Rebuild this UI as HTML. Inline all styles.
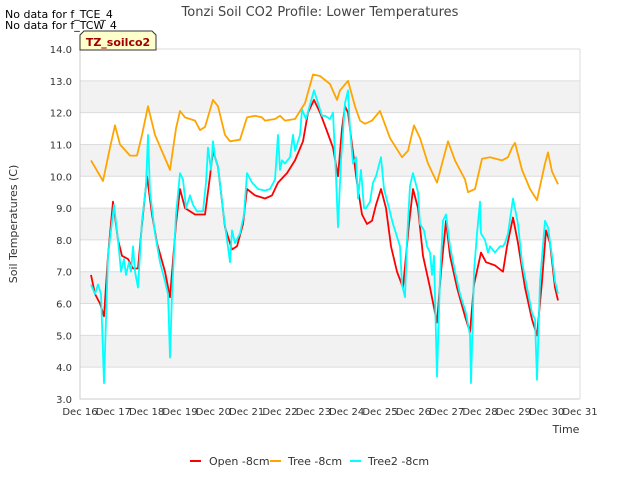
<!DOCTYPE html>
<html><head><meta charset="utf-8"><style>
body{margin:0;background:#fff;font-family:"Liberation Sans","DejaVu Sans",sans-serif}
svg text{font-family:"DejaVu Sans","Liberation Sans",sans-serif}
</style></head><body>
<svg id="chart" width="640" height="480" xmlns="http://www.w3.org/2000/svg">
<rect width="640" height="480" fill="#fff"/>
<g id="bands"></g><g id="grid"></g><g id="axes"></g><g id="series"></g>
<text x="320" y="16" text-anchor="middle" font-size="13" fill="#444">Tonzi Soil CO2 Profile: Lower Temperatures</text>
<text x="5" y="18" font-size="11" fill="#000">No data for f_TCE_4</text>
<text x="5" y="29" font-size="11" fill="#000">No data for f_TCW_4</text>
<g><path d="M80,50 L80,35 L84,31 L152,31 L156,35 L156,50 Z" fill="#ffffcc" stroke="#333"/>
<text x="118" y="46" text-anchor="middle" font-size="11" font-weight="bold" fill="#a00000">TZ_soilco2</text></g>
<text x="566" y="433" text-anchor="middle" font-size="11" fill="#333">Time</text>
<text transform="translate(17,224) rotate(-90)" text-anchor="middle" font-size="11" fill="#333">Soil Temperatures (C)</text>
<g>
<g><line x1="190" y1="461" x2="201" y2="461" stroke="#ff0000" stroke-width="2"/><text x="209" y="465" font-size="11" fill="#333">Open -8cm</text></g>
<g><line x1="270" y1="461" x2="281" y2="461" stroke="#ffa500" stroke-width="2"/><text x="288" y="465" font-size="11" fill="#333">Tree -8cm</text></g>
<g><line x1="350" y1="461" x2="361" y2="461" stroke="#00ffff" stroke-width="2"/><text x="368" y="465" font-size="11" fill="#333">Tree2 -8cm</text></g>
</g>
</svg>
<script>
const xTickLabels=["Dec 16","Dec 17","Dec 18","Dec 19","Dec 20","Dec 21","Dec 22","Dec 23","Dec 24","Dec 25","Dec 26","Dec 27","Dec 28","Dec 29","Dec 30","Dec 31"];
const yTicks=[3,4,5,6,7,8,9,10,11,12,13,14];
const openDays=[.33,.45,.6,.72,.84,.99,1.14,1.26,1.44,1.59,1.74,1.86,2.01,2.16,2.31,2.55,2.7,2.88,3.0,3.15,3.3,3.45,3.75,3.9,3.99,4.14,4.35,4.56,4.71,4.89,5.01,5.25,5.55,5.76,5.94,6.21,6.45,6.69,6.84,7.02,7.2,7.38,7.59,7.74,7.86,7.95,8.04,8.16,8.31,8.46,8.61,8.76,8.88,9.03,9.18,9.33,9.51,9.69,9.87,9.99,10.14,10.29,10.5,10.71,10.83,10.98,11.1,11.31,11.55,11.7,11.82,12.03,12.18,12.45,12.69,12.81,12.99,13.14,13.35,13.56,13.71,13.86,13.98,14.1,14.25,14.34];
const openVals=[6.9,6.3,6.0,5.6,7.5,9.2,8.0,7.5,7.4,7.1,7.1,8.5,10.0,8.8,7.9,7.0,6.2,8.5,9.6,9.0,8.9,8.8,8.8,10.0,10.8,10.3,8.4,7.7,7.8,8.5,9.6,9.4,9.3,9.4,9.8,10.1,10.5,11.1,12.0,12.4,12.0,11.5,10.9,10.0,11.5,12.2,12.0,11.0,9.8,8.8,8.5,8.6,9.1,9.6,9.0,7.8,7.0,6.5,8.5,9.6,9.0,7.5,6.5,5.4,7.0,8.6,7.5,6.5,5.6,5.1,6.6,7.6,7.3,7.2,7.0,7.8,8.7,7.9,6.5,5.5,5.0,6.7,8.3,7.9,6.5,6.1];
const treeDays=[.33,.69,.9,1.05,1.2,1.5,1.71,1.86,2.04,2.25,2.7,2.88,3.0,3.15,3.45,3.6,3.75,3.99,4.14,4.35,4.5,4.8,5.01,5.25,5.46,5.55,5.85,6.0,6.15,6.45,6.75,6.99,7.2,7.5,7.71,7.8,8.04,8.25,8.4,8.55,8.76,9.0,9.3,9.66,9.84,10.02,10.2,10.44,10.71,11.04,11.25,11.55,11.64,11.85,12.06,12.3,12.66,12.84,12.96,13.05,13.26,13.5,13.71,13.95,14.04,14.16,14.34];
const treeVals=[10.5,9.85,10.9,11.6,11.0,10.65,10.65,11.3,12.2,11.3,10.2,11.5,12.05,11.85,11.75,11.45,11.55,12.4,12.2,11.3,11.1,11.15,11.85,11.9,11.85,11.75,11.8,11.9,11.75,11.8,12.3,13.2,13.15,12.9,12.4,12.7,13.0,12.2,11.75,11.65,11.75,12.05,11.2,10.6,10.8,11.6,11.2,10.4,9.8,11.1,10.5,9.9,9.5,9.6,10.55,10.6,10.5,10.6,10.9,11.05,10.2,9.6,9.25,10.4,10.75,10.15,9.75];
const tree2Days=[.33,.45,.54,.63,.72,.84,1.02,1.14,1.23,1.32,1.38,1.47,1.53,1.59,1.65,1.74,1.86,1.98,2.04,2.1,2.25,2.4,2.55,2.64,2.7,2.76,2.88,3.0,3.09,3.18,3.3,3.39,3.51,3.69,3.78,3.84,3.93,3.99,4.05,4.14,4.32,4.5,4.56,4.65,4.8,4.92,5.01,5.16,5.34,5.55,5.7,5.85,5.94,6.0,6.06,6.15,6.3,6.39,6.45,6.6,6.66,6.78,7.02,7.14,7.26,7.35,7.5,7.59,7.68,7.74,7.83,7.95,8.04,8.1,8.19,8.28,8.34,8.43,8.52,8.58,8.7,8.79,8.88,9.03,9.12,9.27,9.39,9.48,9.6,9.66,9.75,9.81,9.9,9.99,10.14,10.2,10.32,10.41,10.5,10.56,10.62,10.71,10.8,10.89,10.98,11.1,11.25,11.4,11.58,11.7,11.73,11.82,11.91,12.0,12.03,12.15,12.24,12.3,12.45,12.6,12.69,12.75,12.84,12.99,13.14,13.26,13.41,13.56,13.65,13.71,13.8,13.95,14.04,14.16,14.25,14.34];
const tree2Vals=[6.6,6.3,6.6,6.3,3.5,7.5,9.1,8.0,7.0,7.4,6.9,7.3,7.0,7.8,7.0,6.5,8.6,9.7,11.3,9.5,8.2,7.3,6.7,6.3,4.3,6.3,8.8,10.1,9.9,9.0,9.4,9.1,8.9,8.9,9.8,10.9,10.2,11.1,10.6,10.3,8.7,7.3,8.3,7.9,8.2,8.8,10.1,9.8,9.6,9.55,9.6,9.9,11.3,10.2,10.5,10.4,10.6,11.3,10.8,11.3,12.1,11.8,12.7,12.3,11.9,11.9,11.8,12.0,10.0,8.4,10.5,12.3,12.7,11.5,10.4,10.6,9.3,10.2,9.0,9.0,9.2,9.8,10.0,10.6,9.6,9.0,8.5,8.2,7.8,6.6,6.2,8.0,9.7,10.1,9.5,8.5,8.3,7.8,7.6,6.9,7.5,3.7,6.8,8.6,8.8,7.8,7.0,6.3,5.7,5.0,3.5,7.0,8.2,9.2,8.2,8.0,7.6,7.8,7.6,7.8,7.8,7.9,8.2,9.3,8.5,7.3,6.5,5.7,5.5,3.6,6.7,8.6,8.4,7.5,6.7,6.3];
const NS="http://www.w3.org/2000/svg";
const L=80,R=580,T=49,B=399,yMin=3,yMax=14,dMax=15;
const xs=d=>L+(R-L)*d/dMax, ys=v=>B-(B-T)*(v-yMin)/(yMax-yMin);
function mk(tag,attrs,parent){const e=document.createElementNS(NS,tag);for(const k in attrs)e.setAttribute(k,attrs[k]);document.getElementById(parent).appendChild(e);return e;}
for(let v=4;v<14;v+=2){const r=mk('rect',{x:L,y:ys(v+1),width:R-L,height:ys(v)-ys(v+1),fill:'#f2f2f2'},'bands');

}
yTicks.forEach(v=>{const g=mk('line',{x1:L,x2:R,y1:ys(v),y2:ys(v),stroke:'#dcdcdc','stroke-width':1},'grid');


const t=mk('text',{x:L-8,y:ys(v)+4,'text-anchor':'end','font-size':10,fill:'#333'},'axes');t.textContent=v.toFixed(1);

});
const ax=mk('path',{d:`M${L},${T}V${B}H${R}`,stroke:'#ccc',fill:'none'},'axes');


mk('line',{x1:R,x2:R,y1:T,y2:B,stroke:'#ddd'},'axes');
xTickLabels.forEach((s,i)=>{const t=mk('text',{x:xs(i),y:B+16,'text-anchor':'middle','font-size':10,fill:'#333'},'axes');t.textContent=s;

});
function line(days,vals,color,name){const p=mk('polyline',{points:days.map((d,i)=>xs(d).toFixed(1)+','+ys(vals[i]).toFixed(1)).join(' '),fill:'none',stroke:color,'stroke-width':1.8,'stroke-linejoin':'round'},'series');

}
line(openDays,openVals,'#ff0000','open-8cm-line');
line(treeDays,treeVals,'#ffa500','tree-8cm-line');
line(tree2Days,tree2Vals,'#00ffff','tree2-8cm-line');
</script>
</body></html>
